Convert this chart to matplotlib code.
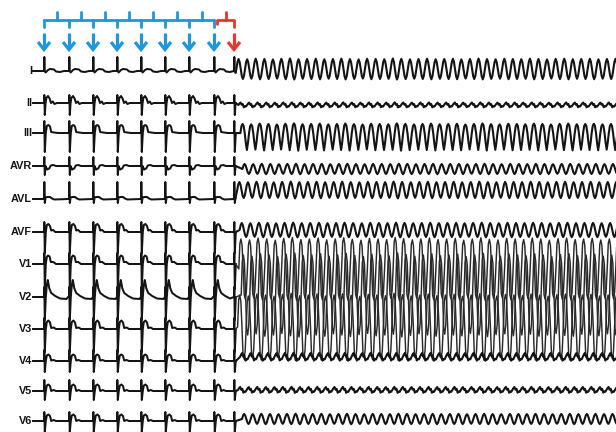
import numpy as np
import matplotlib
matplotlib.use("Agg")
import matplotlib.pyplot as plt

# ---------------- data ----------------
leads = ["I", "II", "III", "AVR", "AVL", "AVF", "V1", "V2", "V3", "V4", "V5", "V6"]

# pacing stimulus times (ms); last one is the extra (red) stimulus
paced_times = [150, 775, 1375, 1975, 2575, 3175, 3775, 4400, 4900]
n_drive = 8

# paced complex templates per lead: (ms after stimulus, mV)
paced_templates = {
    "I":   [(0, 0), (8, 1.4), (18, 0), (40, -0.15), (100, 0.1), (150, 0.2), (250, 0.15), (300, -0.05), (400, -0.1), (500, 0), (600, 0)],
    "II":  [(0, 0), (8, 0.8), (20, -1.2), (40, 0), (60, 0.5), (100, 0.7), (140, 0.45), (175, 0), (220, 0.15), (260, -0.1), (320, 0), (600, 0)],
    "III": [(0, 0), (8, 1.2), (20, -1.9), (45, 0), (70, 0.7), (110, 0.8), (150, 0.65), (180, 0.1), (250, 0.05), (350, 0), (600, 0)],
    "AVR": [(0, 0), (8, 0.9), (20, -0.9), (40, 0), (80, -0.35), (130, -0.25), (170, 0.05), (230, 0.1), (300, 0), (600, 0)],
    "AVL": [(0, 0), (8, 1.7), (20, -0.4), (40, 0.15), (80, 0.2), (150, 0.2), (200, 0.05), (260, -0.05), (600, 0)],
    "AVF": [(0, 0), (8, 1.0), (20, -2.1), (45, 0), (70, 0.7), (110, 0.8), (150, 0.6), (180, 0.15), (230, 0.2), (280, 0), (600, 0)],
    "V1":  [(0, 0), (8, 1.1), (20, -2.5), (45, 0), (70, 0.7), (100, 0.85), (140, 0.75), (170, 0.2), (230, 0.2), (300, 0), (600, 0)],
    "V2":  [(0, 0), (8, 1.0), (20, -2.3), (45, 0), (70, 1.2), (95, 1.7), (130, 0.9), (180, 0.4), (280, 0.1), (400, -0.15), (560, -0.2), (600, 0)],
    "V3":  [(0, 0), (8, 1.1), (20, -2.3), (45, 0), (70, 0.7), (110, 0.85), (150, 0.65), (180, 0.1), (240, 0.15), (300, 0), (600, 0)],
    "V4":  [(0, 0), (8, 1.1), (20, -1.1), (45, 0), (70, 0.55), (110, 0.65), (150, 0.5), (180, 0.05), (240, 0.1), (300, 0), (600, 0)],
    "V5":  [(0, 0), (8, 1.1), (20, -0.9), (45, 0), (70, 0.55), (110, 0.65), (150, 0.5), (180, 0.0), (240, 0.1), (300, 0), (600, 0)],
    "V6":  [(0, 0), (8, 0.9), (20, -1.1), (45, 0), (70, 0.55), (110, 0.65), (150, 0.5), (180, 0.0), (240, 0.1), (300, 0), (600, 0)],
}

# tachycardia
tachy_onset = 4960
tachy_cycles = [216, 212, 218, 214, 210, 216, 214, 212, 218, 214, 216, 210, 214, 218, 212,
                214, 216, 214, 210, 218, 214, 212, 216, 214, 218, 210, 214, 216, 212, 214,
                218, 214, 210, 216, 214, 212, 218, 214, 216, 210, 214, 216, 212, 214, 218]
tachy_amp_scale = [1.00, 0.97, 1.03, 1.00, 0.96, 1.02, 1.05, 0.98, 1.00, 1.03, 0.97, 1.00, 1.04, 0.99, 0.96,
                   1.02, 1.00, 0.98, 1.05, 1.01, 0.97, 1.00, 1.03, 0.98, 1.00, 1.02, 0.96, 1.00, 1.04, 0.99,
                   0.97, 1.02, 1.00, 0.98, 1.03, 1.00, 0.96, 1.01, 1.03, 0.98, 1.00, 1.02, 0.97, 1.00, 1.03]
# one-cycle shapes (8 samples per cycle)
cycle_shapes = {
    "round": [0.0, 0.7, 1.0, 0.7, 0.0, -0.7, -1.0, -0.7],
    "vtrough": [0.3, 0.85, 1.0, 0.85, 0.3, -0.45, -1.0, -0.45],
    "tall": [0.0, 0.85, 1.0, 0.8, 0.05, -0.85, -1.0, -0.75],
    "jag": [0.0, 0.6, 1.0, 0.1, 0.4, -0.9, -0.5, -0.6],
}
# per lead: (centre offset mV, half amplitude mV, shape, phase ms)
tachy_params = {
    "I":   (0.2, 1.0, "round", 0),
    "II":  (-0.2, 0.25, "jag", 50),
    "III": (-0.4, 1.3, "vtrough", 100),
    "AVR": (-0.3, 0.5, "round", 150),
    "AVL": (0.9, 0.8, "round", 20),
    "AVF": (0.2, 0.7, "round", 80),
    "V1":  (-0.5, 3.0, "tall", 60),
    "V2":  (0.2, 4.0, "tall", 120),
    "V3":  (0.2, 3.2, "tall", 30),
    "V4":  (0.4, 0.4, "jag", 90),
    "V5":  (0.1, 0.3, "jag", 40),
    "V6":  (0.2, 0.5, "round", 140),
}

# ---------------- layout ----------------
W, H = 616, 432
baselines = [71, 103, 133, 166, 199, 232, 264, 297, 329, 361, 391, 421]
px_per_mV = 10.0
ms_per_px = 25.0
x0_px = 38
blue = "#1e96dc"
red = "#e6372f"
ink = "#141414"

fig = plt.figure(figsize=(W / 100, H / 100), dpi=100)
ax = fig.add_axes([0, 0, 1, 1])
ax.set_xlim(-x0_px * ms_per_px, (W - x0_px) * ms_per_px)
ax.set_ylim(H, 0)
ax.axis("off")

start_t = -100
for lead, base in zip(leads, baselines):
    ts = [start_t]
    vs = [0.0]
    tmpl = paced_templates[lead]
    for i in range(n_drive):
        t0 = paced_times[i]
        nxt = paced_times[i + 1]
        for dt, v in tmpl:
            if t0 + dt < nxt:
                ts.append(t0 + dt)
                vs.append(v)
    # extra stimulus: spike part only
    t0 = paced_times[n_drive]
    for dt, v in tmpl[:4]:
        ts.append(t0 + dt)
        vs.append(v)
    n_paced = len(ts)
    off, amp, shape, phase = tachy_params[lead]
    shp = cycle_shapes[shape]
    t = tachy_onset + phase
    for cl, sc in zip(tachy_cycles, tachy_amp_scale):
        for k, s in enumerate(shp):
            ts.append(t + cl * k / len(shp))
            vs.append(off + amp * sc * s)
        t += cl
    ts = np.array(ts)
    ys = base - np.array(vs) * px_per_mV
    big = lead in ("V1", "V2", "V3")
    ax.plot(ts[:n_paced], ys[:n_paced], color=ink, lw=1.45, solid_joinstyle="round")
    ax.plot(ts[n_paced - 1:], ys[n_paced - 1:], color="#2a2a2a" if big else ink,
            lw=1.05 if big else 1.5, solid_joinstyle="round")
    ax.text(-6 * ms_per_px, base, lead, ha="right", va="center",
            fontsize=7.8, fontweight="bold", family="Liberation Sans", color=ink)
    ax.plot([-5 * ms_per_px, start_t], [base, base], color=ink, lw=1.4)

# ---------------- stimulus bracket and arrows ----------------
stim_x = paced_times
lwb = 2.0
ax.plot([stim_x[0], stim_x[n_drive - 1]], [20, 20], color=blue, lw=lwb, solid_capstyle="round")
for i in range(n_drive):
    ax.plot([stim_x[i], stim_x[i]], [20, 27], color=blue, lw=lwb, solid_capstyle="round")
for i in range(n_drive - 1):
    m = (stim_x[i] + stim_x[i + 1]) / 2
    ax.plot([m, m], [12, 20], color=blue, lw=lwb, solid_capstyle="round")
r0 = stim_x[n_drive - 1] + 80
r1 = stim_x[n_drive]
ax.plot([r0, r0, r1, r1], [24, 20, 20, 27], color=red, lw=lwb, solid_joinstyle="round",
        solid_capstyle="round")
ax.plot([(r0 + r1) / 2] * 2, [12, 20], color=red, lw=lwb, solid_capstyle="round")

for i, sx in enumerate(stim_x):
    c = blue if i < n_drive else red
    ax.plot([sx, sx], [33, 49], color=c, lw=2.3, solid_capstyle="butt")
    ax.plot([sx - 6 * ms_per_px, sx, sx + 6 * ms_per_px], [42, 49.5, 42], color=c, lw=2.3,
            solid_joinstyle="miter", solid_capstyle="butt")

fig.savefig("out.png", dpi=100)
